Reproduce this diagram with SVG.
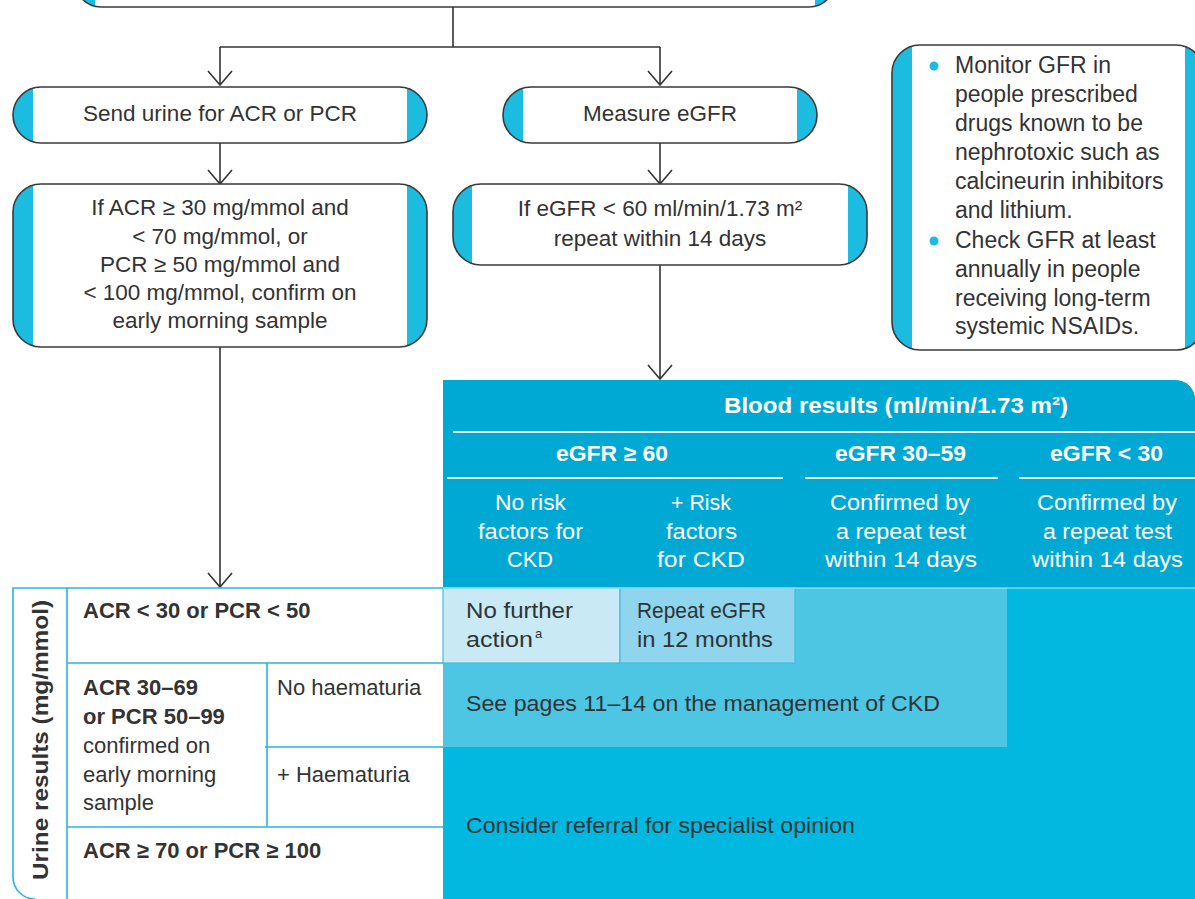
<svg xmlns="http://www.w3.org/2000/svg" width="1195" height="899" viewBox="0 0 1195 899">
<defs>
<style>
.bg{fill:#fff}
.bd{fill:none;stroke:#3a3a3a;stroke-width:1.6}
.cap{fill:#1cbbe0}
.t{font-family:"Liberation Sans",Arial,sans-serif;font-size:22.5px;fill:#333}
.s{font-size:22px}
.c{text-anchor:middle}
.b{font-weight:bold}
.w{fill:#fff}
.conn{fill:none;stroke:#333;stroke-width:1.6}
.grid{fill:none;stroke:#2ab5dc;stroke-width:1.6}
</style>
<marker id="arr" markerUnits="userSpaceOnUse" markerWidth="30" markerHeight="30" viewBox="-15 -15 30 30" refX="0" refY="0" orient="auto" overflow="visible">
<path d="M-14,-12 L0,0 L-14,12" fill="none" stroke="#333" stroke-width="1.6"/>
</marker>
<clipPath id="cp0"><rect x="75" y="-60" width="760" height="67" rx="26"/></clipPath>
<clipPath id="cp1"><rect x="13" y="87" width="414" height="56" rx="28"/></clipPath>
<clipPath id="cp2"><rect x="503" y="87" width="314" height="56" rx="28"/></clipPath>
<clipPath id="cp3"><rect x="13" y="184" width="414" height="163" rx="28"/></clipPath>
<clipPath id="cp4"><rect x="453" y="184" width="414" height="81" rx="28"/></clipPath>
<clipPath id="cp5"><rect x="892" y="45" width="312" height="305" rx="28"/></clipPath>
</defs>

<g id="connectors">
<path class="conn" d="M453,7 V47"/>
<path class="conn" d="M220,47 H660"/>
<path class="conn" d="M220,47 V85" marker-end="url(#arr)"/>
<path class="conn" d="M660,47 V85" marker-end="url(#arr)"/>
<path class="conn" d="M220,143 V184" marker-end="url(#arr)"/>
<path class="conn" d="M660,143 V184" marker-end="url(#arr)"/>
<path class="conn" d="M220,347 V587" marker-end="url(#arr)"/>
<path class="conn" d="M660,265 V379" marker-end="url(#arr)"/>
</g>

<g id="n-top">
<rect class="bg" x="75" y="-60" width="760" height="67" rx="26"/>
<g clip-path="url(#cp0)"><rect class="cap" x="75" y="-60" width="20" height="67"/><rect class="cap" x="815" y="-60" width="20" height="67"/></g>
<rect class="bd" x="75" y="-60" width="760" height="67" rx="26"/>
</g>

<g id="n-send-urine">
<rect class="bg" x="13" y="87" width="414" height="56" rx="28"/>
<g clip-path="url(#cp1)"><rect class="cap" x="13" y="87" width="20" height="56"/><rect class="cap" x="407" y="87" width="20" height="56"/></g>
<rect class="bd" x="13" y="87" width="414" height="56" rx="28"/>
<text class="t c" x="220" y="121">Send urine for ACR or PCR</text>
</g>

<g id="n-measure-egfr">
<rect class="bg" x="503" y="87" width="314" height="56" rx="28"/>
<g clip-path="url(#cp2)"><rect class="cap" x="503" y="87" width="20" height="56"/><rect class="cap" x="797" y="87" width="20" height="56"/></g>
<rect class="bd" x="503" y="87" width="314" height="56" rx="28"/>
<text class="t c" x="660" y="121">Measure eGFR</text>
</g>

<g id="n-acr-confirm">
<rect class="bg" x="13" y="184" width="414" height="163" rx="28"/>
<g clip-path="url(#cp3)"><rect class="cap" x="13" y="184" width="20" height="163"/><rect class="cap" x="407" y="184" width="20" height="163"/></g>
<rect class="bd" x="13" y="184" width="414" height="163" rx="28"/>
<text class="t c" x="220" y="215">If ACR ≥ 30 mg/mmol and</text>
<text class="t c" x="220" y="244">&lt; 70 mg/mmol, or</text>
<text class="t c" x="220" y="272">PCR ≥ 50 mg/mmol and</text>
<text class="t c" x="220" y="300">&lt; 100 mg/mmol, confirm on</text>
<text class="t c" x="220" y="328">early morning sample</text>
</g>

<g id="n-egfr-repeat">
<rect class="bg" x="453" y="184" width="414" height="81" rx="28"/>
<g clip-path="url(#cp4)"><rect class="cap" x="453" y="184" width="19" height="81"/><rect class="cap" x="848" y="184" width="19" height="81"/></g>
<rect class="bd" x="453" y="184" width="414" height="81" rx="28"/>
<text class="t c" x="660" y="216">If eGFR &lt; 60 ml/min/1.73 m²</text>
<text class="t c" x="660" y="246">repeat within 14 days</text>
</g>

<g id="n-monitor">
<rect class="bg" x="892" y="45" width="312" height="305" rx="28"/>
<g clip-path="url(#cp5)"><rect class="cap" x="892" y="45" width="20" height="305"/><rect class="cap" x="1185" y="45" width="20" height="305"/></g>
<rect class="bd" x="892" y="45" width="312" height="305" rx="28"/>
<circle cx="934" cy="66" r="4.5" fill="#1cbbe0"/>
<circle cx="934" cy="241" r="4.5" fill="#1cbbe0"/>
<g class="t" style="font-size:23px">
<text x="955" y="73">Monitor GFR in</text>
<text x="955" y="102">people prescribed</text>
<text x="955" y="131">drugs known to be</text>
<text x="955" y="160">nephrotoxic such as</text>
<text x="955" y="189">calcineurin inhibitors</text>
<text x="955" y="218">and lithium.</text>
<text x="955" y="248">Check GFR at least</text>
<text x="955" y="277">annually in people</text>
<text x="955" y="306">receiving long-term</text>
<text x="955" y="334">systemic NSAIDs.</text>
</g>
</g>

<g id="n-blood-table">
<path d="M443,380 H1175 A20,20 0 0 1 1195,400 V899 H443 Z" fill="#00b8e0"/>
<path d="M443,380 H1175 A20,20 0 0 1 1195,400 V588 H443 Z" fill="#00a9d4"/>
<rect x="443" y="588" width="564" height="159" fill="#4dc6e4"/>
<rect x="443" y="588" width="177" height="75" fill="#c9e9f4" stroke="#3fbfe2" stroke-width="1.2"/>
<rect x="620" y="588" width="175" height="75" fill="#8fd5ee" stroke="#3fbfe2" stroke-width="1.2"/>
<line x1="443" y1="588" x2="1195" y2="588" stroke="#bfe9f6" stroke-width="1.2"/>
<g stroke="#e6f6fb" stroke-width="2">
<line x1="453" y1="432" x2="1195" y2="432"/>
<line x1="447" y1="478" x2="783" y2="478"/>
<line x1="805" y1="478" x2="998" y2="478"/>
<line x1="1019" y1="478" x2="1195" y2="478"/>
</g>
<g class="t s w">
<text class="b" x="724" y="413" textLength="344" lengthAdjust="spacingAndGlyphs">Blood results (ml/min/1.73 m²)</text>
<text class="b" x="556" y="461" textLength="112" lengthAdjust="spacingAndGlyphs">eGFR ≥ 60</text>
<text class="b" x="835" y="461" textLength="131" lengthAdjust="spacingAndGlyphs">eGFR 30–59</text>
<text class="b" x="1050" y="461" textLength="113" lengthAdjust="spacingAndGlyphs">eGFR &lt; 30</text>
<text x="495" y="510" textLength="71" lengthAdjust="spacingAndGlyphs">No risk</text>
<text x="478" y="539" textLength="105" lengthAdjust="spacingAndGlyphs">factors for</text>
<text x="507" y="567" textLength="46" lengthAdjust="spacingAndGlyphs">CKD</text>
<text x="671" y="510" textLength="60" lengthAdjust="spacingAndGlyphs">+ Risk</text>
<text x="666" y="539" textLength="71" lengthAdjust="spacingAndGlyphs">factors</text>
<text x="657" y="567" textLength="88" lengthAdjust="spacingAndGlyphs">for CKD</text>
<text x="830" y="510" textLength="140" lengthAdjust="spacingAndGlyphs">Confirmed by</text>
<text x="836" y="539" textLength="130" lengthAdjust="spacingAndGlyphs">a repeat test</text>
<text x="825" y="567" textLength="152" lengthAdjust="spacingAndGlyphs">within 14 days</text>
<text x="1037" y="510" textLength="140" lengthAdjust="spacingAndGlyphs">Confirmed by</text>
<text x="1043" y="539" textLength="129" lengthAdjust="spacingAndGlyphs">a repeat test</text>
<text x="1032" y="567" textLength="151" lengthAdjust="spacingAndGlyphs">within 14 days</text>
</g>
<g class="t s" style="fill:#2e3436">
<text x="466" y="618" textLength="107" lengthAdjust="spacingAndGlyphs">No further</text>
<text x="466" y="647"><tspan textLength="67" lengthAdjust="spacingAndGlyphs">action</tspan><tspan dx="2" dy="-9" style="font-size:13px">a</tspan></text>
<text x="637" y="618" textLength="129" lengthAdjust="spacingAndGlyphs">Repeat eGFR</text>
<text x="637" y="647" textLength="136" lengthAdjust="spacingAndGlyphs">in 12 months</text>
<text x="466" y="711" textLength="474" lengthAdjust="spacingAndGlyphs">See pages 11–14 on the management of CKD</text>
<text x="466" y="833" textLength="389" lengthAdjust="spacingAndGlyphs">Consider referral for specialist opinion</text>
</g>
</g>

<g id="n-urine-table">
<path class="grid" d="M443,588 H13 V877 A22,22 0 0 0 35,899"/>
<line class="grid" x1="67" y1="588" x2="67" y2="899"/>
<line class="grid" x1="67" y1="663" x2="443" y2="663"/>
<line class="grid" x1="265" y1="747" x2="443" y2="747"/>
<line class="grid" x1="67" y1="827" x2="443" y2="827"/>
<line class="grid" x1="267" y1="663" x2="267" y2="827"/>
<text class="t s b" x="0" y="0" transform="translate(48,880) rotate(-90)" textLength="280" lengthAdjust="spacingAndGlyphs">Urine results (mg/mmol)</text>
<g class="t s">
<text class="b" x="83" y="618">ACR &lt; 30 or PCR &lt; 50</text>
<text class="b" x="83" y="695">ACR 30–69</text>
<text class="b" x="83" y="724">or PCR 50–99</text>
<text x="83" y="753">confirmed on</text>
<text x="83" y="782">early morning</text>
<text x="83" y="810">sample</text>
<text x="277" y="695">No haematuria</text>
<text x="277" y="782">+ Haematuria</text>
<text class="b" x="83" y="858">ACR ≥ 70 or PCR ≥ 100</text>
</g>
</g>
</svg>
